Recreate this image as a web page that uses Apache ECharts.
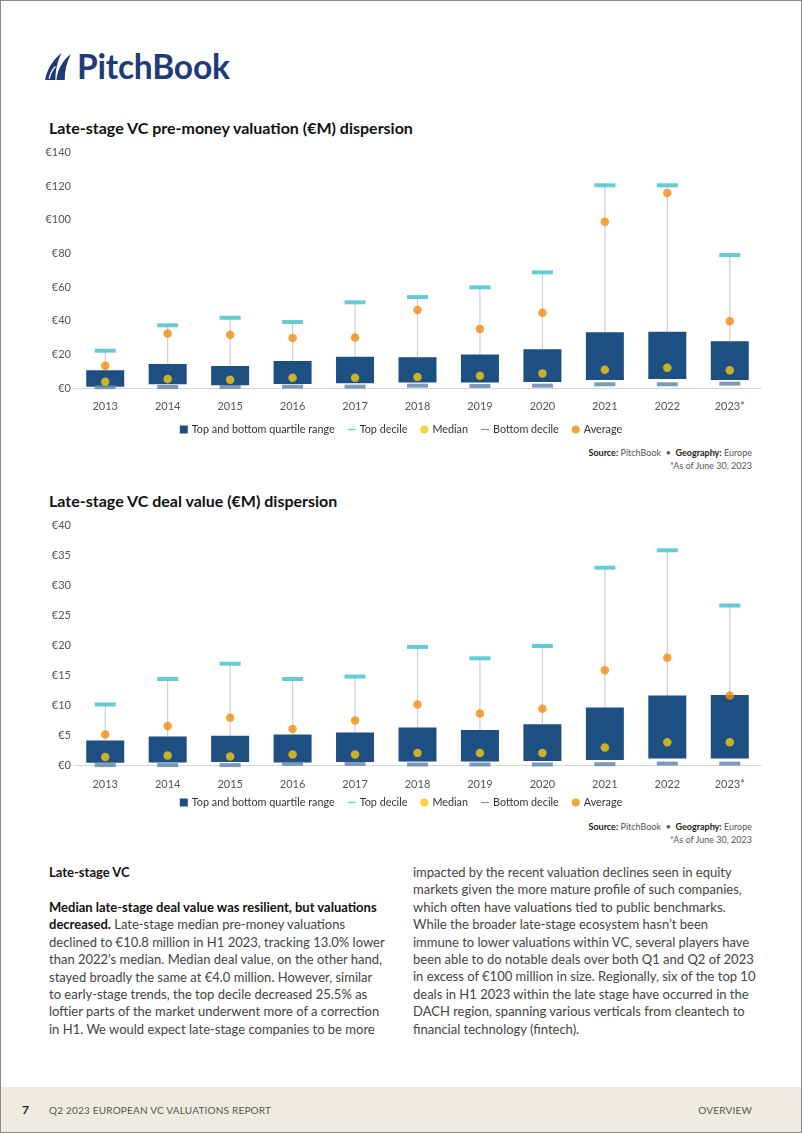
<!DOCTYPE html>
<html>
<head>
<meta charset="utf-8">
<script src="https://cdn.jsdelivr.net/npm/echarts@6/dist/echarts.min.js"></script>
<style>
  html, body { margin:0; padding:0; }
  body { width:802px; height:1133px; position:relative; background:#fff; font-family: Lato, 'Open Sans', sans-serif; overflow:hidden; }
  .frame { position:absolute; left:0; top:0; width:800px; height:1131px; border:1px solid #8a8a8a; pointer-events:none; z-index:5; }
  .logo { position:absolute; left:43px; top:46px; height:40px; display:flex; align-items:center; }
  .logo span { font-family: Lato, sans-serif; font-weight:700; font-size:33.5px; color:#1f3a7a; letter-spacing:-0.2px; margin-left:3px; }
  .title { position:absolute; left:49px; font-weight:700; font-size:16px; color:#111; white-space:nowrap; }
  .chart { position:absolute; left:0; width:802px; height:300px; }
  .src { position:absolute; right:50px; font-size:9px; color:#555; text-align:right; white-space:nowrap; line-height:13px; }
  .src b { color:#222; }
  .body { position:absolute; font-size:13px; color:#444; line-height:17.4px; white-space:nowrap; }
  .body b { color:#111; }
  .footer { position:absolute; left:0; top:1087px; width:802px; height:46px; background:#f0ebe0; }
  .footer .num { position:absolute; left:22px; top:15px; font-weight:700; font-size:12px; color:#222; }
  .footer .rep { position:absolute; left:49px; top:17px; font-size:10px; color:#555; letter-spacing:0.2px; }
  .footer .ov { position:absolute; right:50px; top:17px; font-size:10px; color:#555; letter-spacing:0.2px; }
</style>
</head>
<body>
<div class="frame"></div>
<div class="logo">
  <svg width="31" height="31" viewBox="0 0 30 30">
    <path d="M2 28 C4 18 9 9 18 2 C14 10 12 18 12 28 Z" fill="#1f3a7a"/>
    <path d="M13 28 C14 19 18 10 27 3 C23 11 21 19 21 28 Z" fill="#1f3a7a"/>
    <path d="M6 27 C7 22 9 18 12 15" stroke="#fff" stroke-width="1.2" fill="none"/>
  </svg>
  <span>PitchBook</span>
</div>

<div class="title" style="top:118px;">Late-stage VC pre-money valuation (€M) dispersion</div>
<div id="c1" class="chart" style="top:140px;"></div>
<div class="src" style="top:446px;"><b>Source:</b> PitchBook &nbsp;•&nbsp; <b>Geography:</b> Europe<br>*As of June 30, 2023</div>

<div class="title" style="top:491px;">Late-stage VC deal value (€M) dispersion</div>
<div id="c2" class="chart" style="top:515px;"></div>
<div class="src" style="top:820px;"><b>Source:</b> PitchBook &nbsp;•&nbsp; <b>Geography:</b> Europe<br>*As of June 30, 2023</div>

<div class="body" style="left:49px; top:864px;"><b>Late-stage VC</b></div>
<div class="body" style="left:49px; top:899px;"><b>Median late-stage deal value was resilient, but valuations</b><br><b>decreased.</b> Late-stage median pre-money valuations<br>declined to €10.8 million in H1 2023, tracking 13.0% lower<br>than 2022’s median. Median deal value, on the other hand,<br>stayed broadly the same at €4.0 million. However, similar<br>to early-stage trends, the top decile decreased 25.5% as<br>loftier parts of the market underwent more of a correction<br>in H1. We would expect late-stage companies to be more</div>
<div class="body" style="left:413px; top:864px;">impacted by the recent valuation declines seen in equity<br>markets given the more mature profile of such companies,<br>which often have valuations tied to public benchmarks.<br>While the broader late-stage ecosystem hasn’t been<br>immune to lower valuations within VC, several players have<br>been able to do notable deals over both Q1 and Q2 of 2023<br>in excess of €100 million in size. Regionally, six of the top 10<br>deals in H1 2023 within the late stage have occurred in the<br>DACH region, spanning various verticals from cleantech to<br>financial technology (fintech).</div>

<div class="footer">
  <div class="num">7</div>
  <div class="rep">Q2 2023 EUROPEAN VC VALUATIONS REPORT</div>
  <div class="ov">OVERVIEW</div>
</div>

<script>
// ---- Data ----
const years = ['2013','2014','2015','2016','2017','2018','2019','2020','2021','2022','2023*'];

// Chart 1: pre-money valuation (€M)
const pmBottomDecile = [0.5, 0.6, 0.6, 0.8, 0.8, 1.4, 1.2, 1.4, 2.2, 2.2, 2.6];
const pmQ1          = [0.8, 2.2, 1.6, 2.4, 2.8, 3.2, 3.2, 3.6, 4.8, 5.4, 4.8];
const pmQ3          = [10.5, 14.3, 13.1, 16.1, 18.6, 18.3, 20.0, 23.0, 33.1, 33.5, 27.8];
const pmMedian      = [3.7, 5.4, 4.9, 6.1, 6.1, 6.5, 7.3, 8.7, 10.9, 12.1, 10.5];
const pmAverage     = [13.3, 32.5, 31.7, 29.7, 30.1, 46.4, 35.1, 44.8, 98.9, 116.0, 39.7];
const pmTopDecile   = [22.2, 37.3, 41.8, 39.3, 51.0, 54.1, 59.9, 68.8, 120.6, 120.6, 79.1];
const pmTicks = ['€0','€20','€40','€60','€80','€100','€120','€140'];

// Chart 2: deal value (€M)
const dvBottomDecile = [0.1, 0.1, 0.1, 0.3, 0.3, 0.2, 0.2, 0.2, 0.25, 0.35, 0.35];
const dvQ1          = [0.5, 0.55, 0.6, 0.55, 0.6, 0.7, 0.7, 0.8, 0.95, 1.2, 1.2];
const dvQ3          = [4.2, 4.85, 5.0, 5.2, 5.55, 6.35, 5.95, 6.9, 9.7, 11.7, 11.8];
const dvMedian      = [1.45, 1.7, 1.55, 1.85, 1.85, 2.1, 2.1, 2.1, 3.05, 3.9, 3.9];
const dvAverage     = [5.2, 6.6, 8.0, 6.1, 7.55, 10.2, 8.7, 9.5, 15.9, 18.0, 11.7];
const dvTopDecile   = [10.2, 14.45, 17.0, 14.45, 14.85, 19.8, 17.9, 19.95, 33.0, 35.9, 26.7];
const dvTicks = ['€0','€5','€10','€15','€20','€25','€30','€35','€40'];

const legendNames = ['Top and bottom quartile range','Top decile','Median','Bottom decile','Average'];

const C = {
  box:'#1d4f82', top:'#3dbfc9', med:'#f6c90e', bot:'#5f80a6', avg:'#f28c0f', whisk:'#cfcfcf', axis:'#d6d6d6', label:'#555'
};

function buildOption(q1, q3, med, avg, topD, botD, ticks, step, gridTop, gridBottom, legendTop) {
  const maxV = (ticks.length - 1) * step;
  return {
    animation:false,
    textStyle:{ fontFamily:"Lato, sans-serif" },
    grid:{ left:74, right:41, top:gridTop, bottom:gridBottom },
    legend:{
      top:legendTop, left:'center', itemWidth:8, itemHeight:8, itemGap:13,
      textStyle:{ fontSize:10.8, color:'#333', fontFamily:"Lato, sans-serif", padding:[0,0,0,-1] },
      data:[
        { name:legendNames[0], icon:'rect' },
        { name:legendNames[1], icon:'path://M0,4.2 H10 V5.8 H0 Z' },
        { name:legendNames[2], icon:'circle' },
        { name:legendNames[3], icon:'path://M0,4.2 H10 V5.8 H0 Z' },
        { name:legendNames[4], icon:'circle' }
      ]
    },
    xAxis:{
      type:'category', data:years,
      axisLine:{ lineStyle:{ color:C.axis, width:1 } },
      axisTick:{ show:false },
      axisLabel:{ color:C.label, fontSize:11, margin:13 }
    },
    yAxis:{
      type:'value', min:0, max:maxV, interval:step,
      splitLine:{ show:false }, axisLine:{ show:false }, axisTick:{ show:false },
      axisLabel:{ color:C.label, fontSize:11, margin:3, formatter:(v)=> ticks[Math.round(v/step)] }
    },
    series:[
      { name:'whisker', type:'custom', z:1, silent:true,
        data: years.map((y,i)=>[i, q3[i], topD[i]]),
        renderItem:(params, api)=>{
          const a = api.coord([api.value(0), api.value(1)]);
          const b = api.coord([api.value(0), api.value(2)]);
          return { type:'line', shape:{ x1:a[0], y1:a[1], x2:b[0], y2:b[1] }, style:{ stroke:C.whisk, lineWidth:1.2 } };
        }
      },
      { name:'base', type:'bar', stack:'box', barWidth:38, z:2, silent:true,
        itemStyle:{ color:'transparent' }, data:q1 },
      { name:legendNames[0], type:'bar', stack:'box', barWidth:38, z:2,
        itemStyle:{ color:C.box }, data:q3.map((v,i)=> +(v - q1[i]).toFixed(3)) },
      { name:legendNames[1], type:'scatter', symbol:'rect', symbolSize:[21,4], z:4,
        itemStyle:{ color:C.top }, data:topD },
      { name:legendNames[2], type:'scatter', symbol:'circle', symbolSize:8.5, z:5,
        itemStyle:{ color:C.med }, data:med },
      { name:legendNames[3], type:'scatter', symbol:'rect', symbolSize:[21,4], z:3,
        itemStyle:{ color:C.bot }, data:botD },
      { name:legendNames[4], type:'scatter', symbol:'circle', symbolSize:8.5, z:5,
        itemStyle:{ color:C.avg }, data:avg }
    ]
  };
}

const c1 = echarts.init(document.getElementById('c1'), null, { renderer:'canvas' });
c1.setOption(buildOption(pmQ1, pmQ3, pmMedian, pmAverage, pmTopDecile, pmBottomDecile, pmTicks, 20, 12.7, 52, 279));

const c2 = echarts.init(document.getElementById('c2'), null, { renderer:'canvas' });
c2.setOption(buildOption(dvQ1, dvQ3, dvMedian, dvAverage, dvTopDecile, dvBottomDecile, dvTicks, 5, 10.7, 49.3, 277));
</script>
</body>
</html>
